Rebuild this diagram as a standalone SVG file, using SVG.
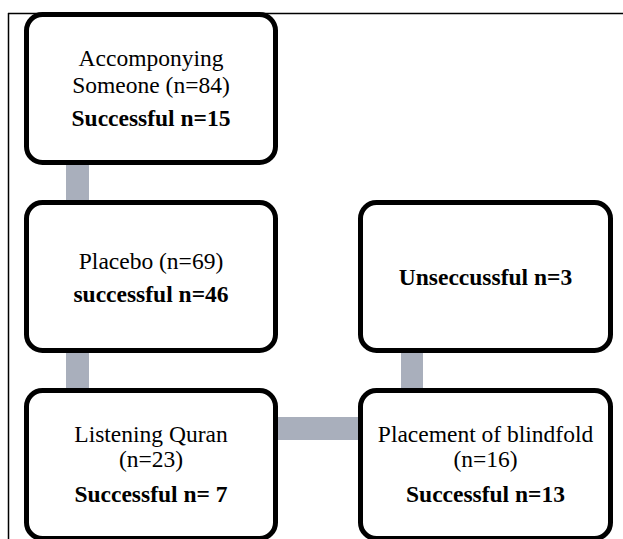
<svg xmlns="http://www.w3.org/2000/svg" width="623" height="539" viewBox="0 0 623 539">
<style>
.box{fill:#fff;stroke:#000;stroke-width:5}
.conn{fill:#a9afbc}
.t{font-family:"Liberation Serif","Times New Roman",serif;font-size:23.5px;fill:#000;text-anchor:middle}
.b{font-weight:bold}
</style>
<rect width="623" height="539" fill="#fff"/>
<g id="frame" stroke="#000" stroke-width="1.5" fill="none">
<line x1="8" y1="13.5" x2="623" y2="13.5"/>
<line x1="8.5" y1="13" x2="8.5" y2="539"/>
</g>
<g id="connectors">
<rect class="conn" x="66" y="163" width="23" height="40"/>
<rect class="conn" x="66" y="350" width="23" height="41"/>
<rect class="conn" x="275" y="417" width="86" height="23"/>
<rect class="conn" x="401" y="351" width="22" height="40"/>
</g>
<g id="n1">
<rect class="box" x="26.5" y="14.5" width="249" height="148" rx="16"/>
<text class="t" x="151" y="66">Accomponying</text>
<text class="t" x="151" y="92.5">Someone (n=84)</text>
<text class="t b" x="151" y="126">Successful n=15</text>
</g>
<g id="n2">
<rect class="box" x="26.5" y="202.5" width="249" height="148" rx="16"/>
<text class="t" x="151" y="268.5">Placebo (n=69)</text>
<text class="t b" x="151" y="302">successful n=46</text>
</g>
<g id="n3">
<rect class="box" x="26.5" y="390.5" width="249" height="148" rx="16"/>
<text class="t" x="151" y="442">Listening Quran</text>
<text class="t" x="151" y="467">(n=23)</text>
<text class="t b" x="151" y="502">Successful n= 7</text>
</g>
<g id="n4">
<rect class="box" x="360.5" y="202.5" width="250" height="148" rx="16"/>
<text class="t b" x="485.5" y="285">Unseccussful n=3</text>
</g>
<g id="n5">
<rect class="box" x="360.5" y="390.5" width="250" height="148" rx="16"/>
<text class="t" x="485.5" y="442">Placement of blindfold</text>
<text class="t" x="485.5" y="467">(n=16)</text>
<text class="t b" x="485.5" y="502">Successful n=13</text>
</g>
</svg>
